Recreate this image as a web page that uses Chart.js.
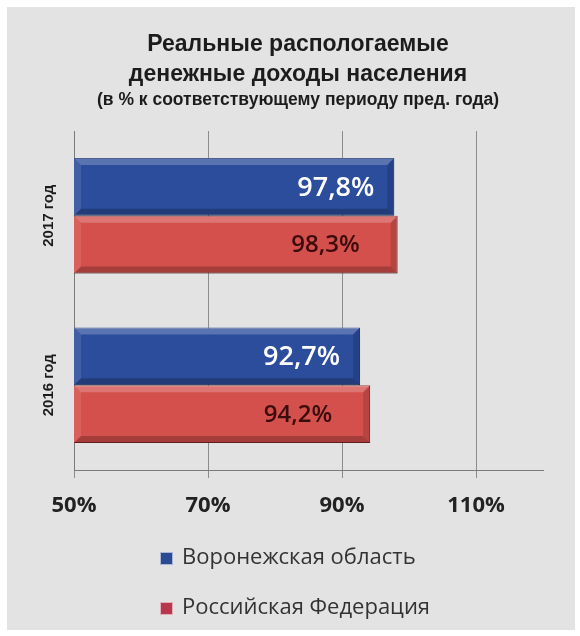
<!DOCTYPE html>
<html>
<head>
<meta charset="utf-8">
<style>
  html, body { margin: 0; padding: 0; background: #ffffff; }
  #wrap { width: 580px; height: 636px; position: relative; }
</style>
<script src="https://cdn.jsdelivr.net/npm/chart.js@4.4.1/dist/chart.umd.min.js"></script>
</head>
<body>
<div id="wrap"><canvas id="c" width="580" height="636"></canvas></div>
<script>
// ---- data ----
const categories = ['2017 год', '2016 год'];
const voronezh = [97.8, 92.7];
const russia = [98.3, 94.2];
const seriesNames = ['Воронежская область', 'Российская Федерация'];
const xTicks = [50, 70, 90, 110];
const titleLines = ['Реальные распологаемые', 'денежные доходы населения'];
const subtitleText = '(в % к соответствующему периоду пред. года)';

const BLUE = '#2c4c9c';
const RED = '#d4504c';
const fmt = v => v.toFixed(1).replace('.', ',') + '%';

const bgPlugin = {
  id: 'bg',
  beforeDraw(chart) {
    const ctx = chart.ctx;
    ctx.save();
    ctx.fillStyle = '#ffffff';
    ctx.fillRect(0, 0, chart.width, chart.height);
    ctx.fillStyle = '#e3e3e3';
    ctx.fillRect(7, 7, chart.width - 12, chart.height - 13);
    ctx.restore();
  }
};

const barDecor = {
  id: 'barDecor',
  afterDatasetsDraw(chart) {
    const ctx = chart.ctx;
    const ca = chart.chartArea;
    const labelStyles = [
      { color: '#ffffff', font: '600 27px "Open Sans"', inset: 20 },
      { color: '#3a0c0c', font: '600 24px "Open Sans"', inset: 38 }
    ];
    chart.data.datasets.forEach((ds, di) => {
      const meta = chart.getDatasetMeta(di);
      meta.data.forEach((el, i) => {
        const p = el.getProps(['x', 'y', 'base', 'height'], true);
        const l = Math.max(Math.min(p.base, p.x), ca.left);
        const r = Math.min(Math.max(p.base, p.x), ca.right);
        const t = p.y - p.height / 2, b = p.y + p.height / 2;
        const bv = 7;
        ctx.save();
        ctx.fillStyle = 'rgba(255,255,255,0.22)';
        ctx.beginPath(); ctx.moveTo(l, t); ctx.lineTo(r, t); ctx.lineTo(r - bv, t + bv); ctx.lineTo(l + bv, t + bv); ctx.closePath(); ctx.fill();
        ctx.fillStyle = 'rgba(255,255,255,0.10)';
        ctx.beginPath(); ctx.moveTo(l, t); ctx.lineTo(l + bv, t + bv); ctx.lineTo(l + bv, b - bv); ctx.lineTo(l, b); ctx.closePath(); ctx.fill();
        ctx.fillStyle = 'rgba(0,0,0,0.22)';
        ctx.beginPath(); ctx.moveTo(l, b); ctx.lineTo(r, b); ctx.lineTo(r - bv, b - bv); ctx.lineTo(l + bv, b - bv); ctx.closePath(); ctx.fill();
        ctx.fillStyle = 'rgba(0,0,0,0.14)';
        ctx.beginPath(); ctx.moveTo(r, t); ctx.lineTo(r, b); ctx.lineTo(r - bv, b - bv); ctx.lineTo(r - bv, t + bv); ctx.closePath(); ctx.fill();
        const st = labelStyles[di];
        ctx.fillStyle = st.color;
        ctx.font = st.font;
        ctx.textAlign = 'right';
        ctx.textBaseline = 'middle';
        ctx.fillText(fmt(ds.data[i]), r - st.inset, p.y + 1);
        ctx.restore();
      });
    });
    const ys = chart.scales.y;
    ctx.save();
    ctx.fillStyle = '#1c1c1c';
    ctx.font = 'bold 15px "Liberation Sans"';
    ctx.textAlign = 'center';
    ctx.textBaseline = 'middle';
    categories.forEach((c, i) => {
      const y = ys.getPixelForValue(i);
      ctx.save();
      ctx.translate(49, y);
      ctx.rotate(-Math.PI / 2);
      ctx.fillText(c, 0, 0);
      ctx.restore();
    });
    ctx.restore();
  },
  afterDraw(chart) {
    const ctx = chart.ctx;
    ctx.save();
    ctx.font = '22px "Open Sans"';
    ctx.textBaseline = 'middle';
    ctx.textAlign = 'left';
    const rows = [558, 608];
    const boxColors = ['#2a4a94', '#b8374f'];
    chart.data.datasets.forEach((ds, di) => {
      const y = rows[di];
      ctx.fillStyle = boxColors[di];
      ctx.fillRect(160, y - 6, 13, 13);
      ctx.strokeStyle = 'rgba(255,255,255,0.6)';
      ctx.lineWidth = 1;
      ctx.strokeRect(160.5, y - 5.5, 12, 12);
      ctx.fillStyle = '#333333';
      ctx.fillText(ds.label, 182, y);
    });
    ctx.restore();
  }
};

new Chart(document.getElementById('c'), {
  type: 'bar',
  data: {
    labels: categories,
    datasets: [
      { label: seriesNames[0], data: voronezh, backgroundColor: BLUE, borderColor: '#1d3372', borderWidth: 1, borderSkipped: false },
      { label: seriesNames[1], data: russia, backgroundColor: RED, borderColor: '#7d2624', borderWidth: 1, borderSkipped: false }
    ]
  },
  options: {
    indexAxis: 'y',
    responsive: false,
    animation: false,
    devicePixelRatio: 1,
    layout: { padding: { left: 53, right: 37, top: 0, bottom: 118 } },
    datasets: { bar: { categoryPercentage: 0.68, barPercentage: 1.0 } },
    scales: {
      x: {
        type: 'linear',
        min: 50,
        max: 120,
        afterBuildTicks: s => { s.ticks = xTicks.map(v => ({ value: v })); },
        afterFit: s => { s.height = 48; },
        ticks: {
          callback: v => v + '%',
          color: '#222222',
          font: { family: 'Open Sans', size: 22, weight: 'bold' },
          padding: 15,
          maxRotation: 0
        },
        grid: { color: '#8c8c8c', lineWidth: 1, tickLength: 8, drawTicks: true },
        border: { display: true, color: '#7a7a7a', width: 1 }
      },
      y: {
        ticks: { display: false },
        grid: { display: false, drawTicks: false },
        border: { display: true, color: '#7a7a7a', width: 1 },
        afterFit: s => { s.width = 21; }
      }
    },
    plugins: {
      legend: { display: false },
      tooltip: { enabled: false },
      title: {
        display: true,
        text: titleLines,
        color: '#1c1c1c',
        font: { family: 'Liberation Sans', size: 23, weight: 'bold', lineHeight: 30 / 23 },
        padding: { top: 30, bottom: 0 }
      },
      subtitle: {
        display: true,
        text: subtitleText,
        color: '#1c1c1c',
        font: { family: 'Liberation Sans', size: 17.5, weight: 'bold', lineHeight: 1.2 },
        padding: { top: 0, bottom: 20 }
      }
    }
  },
  plugins: [bgPlugin, barDecor]
});
</script>
</body>
</html>
